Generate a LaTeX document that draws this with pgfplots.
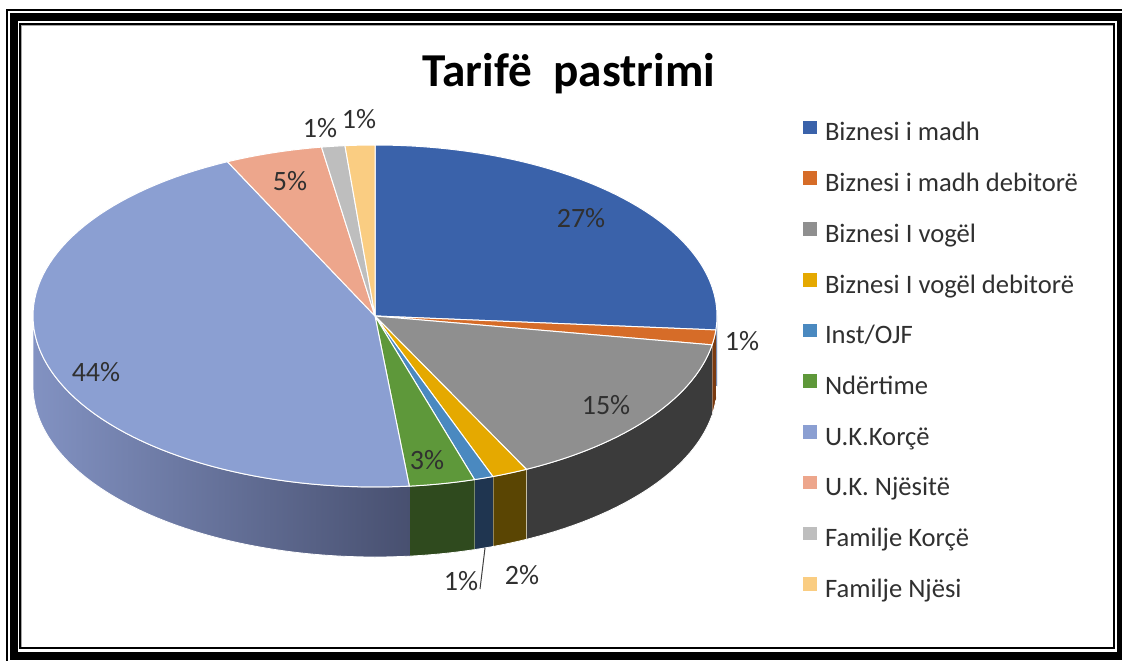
\documentclass[border=0pt]{standalone}
\usepackage{fontspec}
\setmainfont{Carlito}
\usepackage{pgfplots}
\pgfplotsset{compat=1.18}

% slice (top) colours
\definecolor{pc0}{HTML}{3A62AA}
\definecolor{pc1}{HTML}{D66C28}
\definecolor{pc2}{HTML}{8F8F8F}
\definecolor{pc3}{HTML}{E5A900}
\definecolor{pc4}{HTML}{4A89C0}
\definecolor{pc5}{HTML}{5E983A}
\definecolor{pc6}{HTML}{8B9FD2}
\definecolor{pc7}{HTML}{EDA68C}
\definecolor{pc8}{HTML}{BEBEBE}
\definecolor{pc9}{HTML}{FACD82}
% wall colours
\definecolor{pw0}{HTML}{2D4C85}
\definecolor{pw1}{HTML}{7A3A10}
\definecolor{pw2}{HTML}{3B3B3B}
\definecolor{pw3}{HTML}{5A4503}
\definecolor{pw4}{HTML}{1F3550}
\definecolor{pw5}{HTML}{2F4A1E}
\definecolor{pw6l}{HTML}{8292C2}
\definecolor{pw6r}{HTML}{485070}
\definecolor{pw7}{HTML}{8A5A48}
\definecolor{pw8}{HTML}{6A6A6A}
\definecolor{pw9}{HTML}{8A6E40}
\definecolor{lbl}{HTML}{303030}

\pgfplotsset{
  wall0/.style={fill=pw0}, wall1/.style={fill=pw1}, wall2/.style={fill=pw2},
  wall3/.style={fill=pw3}, wall4/.style={fill=pw4}, wall5/.style={fill=pw5},
  wall6/.style={left color=pw6l, right color=pw6r},
  wall7/.style={fill=pw7}, wall8/.style={fill=pw8}, wall9/.style={fill=pw9},
}

% shares in percent: Biznesi i madh, ... , Familje Njesi
\def\pievalues{26.3,1.4,15.0,1.7,0.9,3.1,44.5,4.6,1.1,1.4}
\xdef\cum{0}\xdef\idx{0}
\foreach \val in \pievalues {%
  \pgfmathsetmacro\ncum{\cum+\val}%
  \pgfmathsetmacro\degS{3.6*\cum}%
  \pgfmathsetmacro\degE{3.6*\ncum}%
  \expandafter\xdef\csname pieS\idx\endcsname{\degS}%
  \expandafter\xdef\csname pieE\idx\endcsname{\degE}%
  \pgfmathsetmacro\wa{max(\degS,90)}%
  \pgfmathsetmacro\wb{min(\degE,270)}%
  \expandafter\xdef\csname wallA\idx\endcsname{\wa}%
  \expandafter\xdef\csname wallB\idx\endcsname{\wb}%
  \xdef\cum{\ncum}%
  \pgfmathtruncatemacro\nidx{\idx+1}\xdef\idx{\nidx}%
}

\begin{document}
\begin{tikzpicture}
\useasboundingbox (0,0) rectangle (561pt,330pt);
\begin{axis}[
  at={(0,0)}, anchor=south west,
  scale only axis, width=561pt, height=330pt,
  xmin=0, xmax=1122, ymin=0, ymax=660,
  hide axis, clip=false,
  legend image code/.code={\fill[#1,draw=none] (0pt,0pt) rectangle (7pt,6.8pt);},
  legend style={draw=none, fill=none, inner sep=0pt, outer sep=0pt,
    at={(axis cs:803,539.3)}, anchor=north west,
    font=\fontsize{13.3}{16}\selectfont, text=lbl,
    nodes={inner sep=0pt, text height=9.5pt, text depth=3pt},
    row sep=12.32pt,
    /tikz/every odd column/.append style={column sep=4pt}},
  legend cell align=left,
]
% walls (front half)
\pgfplotsinvokeforeach{0,...,9}{%
  \ifdim\csname wallB#1\endcsname pt>\csname wallA#1\endcsname pt
  \addplot[forget plot, wall#1, draw=white, line width=0.4pt,
    domain=0:2, samples=201, variable=\t]
   ({375+342*sin(ifthenelse(\t<1.005,
        \csname wallA#1\endcsname+(\csname wallB#1\endcsname-\csname wallA#1\endcsname)*min(\t,1),
        \csname wallB#1\endcsname-(\csname wallB#1\endcsname-\csname wallA#1\endcsname)*(\t-1.01)/0.99))},
    {344+171*cos(ifthenelse(\t<1.005,
        \csname wallA#1\endcsname+(\csname wallB#1\endcsname-\csname wallA#1\endcsname)*min(\t,1),
        \csname wallB#1\endcsname-(\csname wallB#1\endcsname-\csname wallA#1\endcsname)*(\t-1.01)/0.99))
      -ifthenelse(\t<1.005,0,70)});
  \fi
}
% top faces
\pgfplotsinvokeforeach{0,...,9}{%
  \addplot[forget plot, fill=pc#1, draw=white, line width=0.5pt,
    domain=\csname pieS#1\endcsname:\csname pieE#1\endcsname,
    samples=80, variable=\t]
   ({375+342*sin(\t)},{344+171*cos(\t)}) -- (axis cs:375,344) -- cycle;
}
% leader line
\addplot[forget plot, draw=black!75, line width=0.5pt] coordinates {(485,112) (480,71)};

% data labels
\begin{scope}[every node/.style={font=\fontsize{14}{16}\selectfont, text=lbl}]
\node at (axis cs:581,442) {27\%};
\node at (axis cs:742,319) {1\%};
\node at (axis cs:606,255) {15\%};
\node at (axis cs:522,85) {2\%};
\node at (axis cs:461,79) {1\%};
\node at (axis cs:427,200) {3\%};
\node at (axis cs:96,288) {44\%};
\node at (axis cs:290,479) {5\%};
\node at (axis cs:320,532) {1\%};
\node at (axis cs:359,541) {1\%};
\end{scope}

% title
\node[font=\bfseries\fontsize{23.6}{28}\selectfont, anchor=base] at (axis cs:569,573.3) {Tarifë\ \ pastrimi};

% legend
\addlegendimage{fill=pc0}\addlegendentry{Biznesi i madh}
\addlegendimage{fill=pc1}\addlegendentry{Biznesi i madh debitorë}
\addlegendimage{fill=pc2}\addlegendentry{Biznesi I vogël}
\addlegendimage{fill=pc3}\addlegendentry{Biznesi I vogël debitorë}
\addlegendimage{fill=pc4}\addlegendentry{Inst/OJF}
\addlegendimage{fill=pc5}\addlegendentry{Ndërtime}
\addlegendimage{fill=pc6}\addlegendentry{U.K.Korçë}
\addlegendimage{fill=pc7}\addlegendentry{U.K. Njësitë}
\addlegendimage{fill=pc8}\addlegendentry{Familje Korçë}
\addlegendimage{fill=pc9}\addlegendentry{Familje Njësi}
\end{axis}
% frame
\draw[line width=1pt] (3.5pt,-5pt) -- (3.5pt,325pt) -- (566pt,325pt);
\draw[line width=4pt] (7pt,2pt) rectangle (560.5pt,321.5pt);
\draw[line width=1pt] (10pt,6pt) rectangle (557pt,318pt);
\draw[line width=0.6pt, black!35] (10.8pt,6.5pt) -- (10.8pt,317.2pt) -- (556.5pt,317.2pt);
\end{tikzpicture}
\end{document}
